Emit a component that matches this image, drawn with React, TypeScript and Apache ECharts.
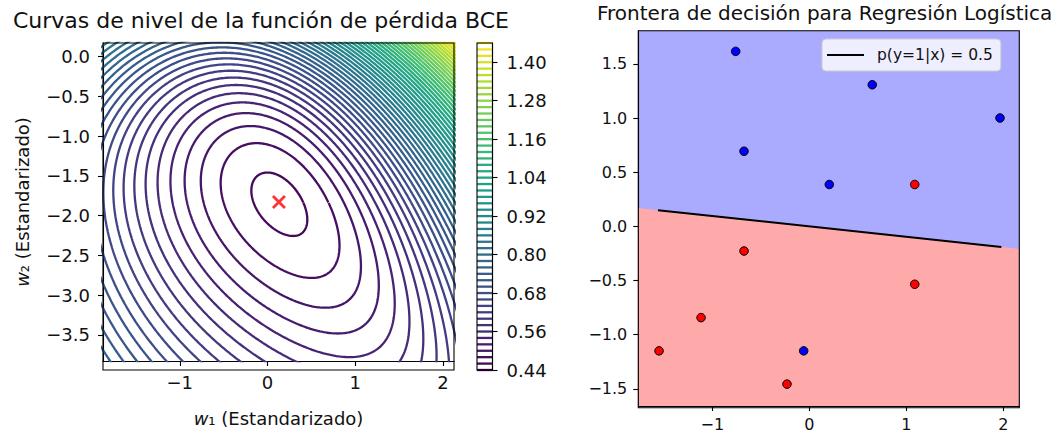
import React, { useEffect, useRef } from "react";
import * as echarts from "echarts";

const FONT = "DejaVu Sans";

// ---- Right panel data (standardized features). class 0 = blue, class 1 = red
const blueX1 = [-0.759, 0.649, 1.966, -0.673, 0.206, -0.058];
const blueX2 = [1.616, 1.308, 1.001, 0.694, 0.387, -1.149];
const redX1 = [1.087, -0.673, 1.087, -1.116, -1.549, -0.23];
const redX2 = [0.387, -0.227, -0.534, -0.842, -1.149, -1.456];

// decision boundary p(y=1|x) = 0.5 (end points)
const boundaryX1 = [-1.56, 1.98];
const boundaryX2 = [0.15, -0.19];

// ---- Left panel
const wOptimum = [0.13, -1.83];
const w1Range = [-1.875, 2.125];
const w2Range = [-3.83, 0.17];
const w1Ticks = [-1, 0, 1, 2];
const w2Ticks = [0, -0.5, -1, -1.5, -2, -2.5, -3, -3.5];
const levelMin = 0.44;
const levelMax = 1.46;
const levelStep = 0.02;
const colorbarTicks = [0.44, 0.56, 0.68, 0.8, 0.92, 1.04, 1.16, 1.28, 1.4];

// ---- Right panel axes
const x1Range = [-1.763, 2.165];
const x2Range = [-1.658, 1.807];
const x1Ticks = [-1, 0, 1, 2];
const x2Ticks = [1.5, 1, 0.5, 0, -0.5, -1, -1.5];

// ---- layout (pixels)
const GL = { x: 103, y: 43, w: 351, h: 327 };
const GC = { x: 477, y: 43, w: 15.5, h: 327 };
const GR = { x: 638.3, y: 30.7, w: 381, h: 377 };

const VIRIDIS = ["#440154", "#482475", "#414487", "#355f8d", "#2a788e", "#21918c", "#22a884", "#44bf70", "#7ad151", "#bddf26", "#fde725"];
function hex2rgb(h: string) {
  return [parseInt(h.slice(1, 3), 16), parseInt(h.slice(3, 5), 16), parseInt(h.slice(5, 7), 16)];
}
function viridis(t: number) {
  t = Math.max(0, Math.min(1, t));
  const s = t * (VIRIDIS.length - 1);
  const i = Math.min(VIRIDIS.length - 2, Math.floor(s));
  const f = s - i;
  const a = hex2rgb(VIRIDIS[i]);
  const b = hex2rgb(VIRIDIS[i + 1]);
  const c = a.map((v, k) => Math.round(v + (b[k] - v) * f));
  return `rgb(${c[0]},${c[1]},${c[2]})`;
}
const levelColor = (l: number) => viridis((l - levelMin) / (levelMax - levelMin));

type P = { x1: number; x2: number; y: number };
const samples: P[] = [
  ...blueX1.map((v, i) => ({ x1: v, x2: blueX2[i], y: 0 })),
  ...redX1.map((v, i) => ({ x1: v, x2: redX2[i], y: 1 })),
];

function bce(w1: number, w2: number) {
  let s = 0;
  for (const p of samples) {
    const z = w1 * p.x1 + w2 * p.x2;
    const sp = Math.max(z, 0) + Math.log1p(Math.exp(-Math.abs(z)));
    s += sp - p.y * z;
  }
  return s / samples.length;
}

function minimizer() {
  let c1 = 0, c2 = 0;
  for (let it = 0; it < 60; it++) {
    let g1 = 0, g2 = 0, h11 = 0, h12 = 0, h22 = 0;
    for (const p of samples) {
      const z = c1 * p.x1 + c2 * p.x2;
      const s = 1 / (1 + Math.exp(-z));
      const r = s - p.y;
      g1 += r * p.x1; g2 += r * p.x2;
      const q = s * (1 - s);
      h11 += q * p.x1 * p.x1; h12 += q * p.x1 * p.x2; h22 += q * p.x2 * p.x2;
    }
    const det = h11 * h22 - h12 * h12;
    c1 -= (h22 * g1 - h12 * g2) / det;
    c2 -= (-h12 * g1 + h11 * g2) / det;
  }
  return [c1, c2];
}

function contourLines() {
  const [c1, c2] = minimizer();
  const lmin = bce(c1, c2);
  const out: { level: number; pts: number[][] }[] = [];
  const NA = 540;
  const nLevels = Math.round((levelMax - levelMin) / levelStep);
  for (let k = 0; k <= nLevels; k++) {
    const level = +(levelMin + k * levelStep).toFixed(4);
    if (level <= lmin) continue;
    const pts: number[][] = [];
    for (let a = 0; a <= NA; a++) {
      const th = (2 * Math.PI * a) / NA;
      const u1 = Math.cos(th), u2 = Math.sin(th);
      let hi = 0.25;
      while (bce(c1 + hi * u1, c2 + hi * u2) < level && hi < 400) hi *= 2;
      let lo = 0;
      for (let b = 0; b < 34; b++) {
        const m = (lo + hi) / 2;
        if (bce(c1 + m * u1, c2 + m * u2) < level) lo = m; else hi = m;
      }
      const r = (lo + hi) / 2;
      pts.push([c1 + r * u1, c2 + r * u2]);
    }
    out.push({ level, pts });
  }
  return out;
}

const fmt1 = (v: number) => (v < 0 ? "\u2212" : "") + Math.abs(v).toFixed(1);
const fmt0 = (v: number) => (v < 0 ? "\u2212" : "") + Math.abs(v).toFixed(0);
const fmt2 = (v: number) => v.toFixed(2);

function lineAt(x: number) {
  const t = (x - boundaryX1[0]) / (boundaryX1[1] - boundaryX1[0]);
  return boundaryX2[0] + t * (boundaryX2[1] - boundaryX2[0]);
}

function axisCommon(fontSize: number, margin: number) {
  return {
    type: "value" as const,
    axisLine: { show: true, onZero: false, lineStyle: { color: "#000", width: 1.1 } },
    splitLine: { show: false },
    axisLabel: { fontSize, fontFamily: FONT, color: "#111", margin },
  };
}

const BOUNDARY_NAME = "p(y=1|x) = 0.5";

function buildOption() {
  const contours = contourLines();
  const levels: number[] = [];
  const nLevels = Math.round((levelMax - levelMin) / levelStep);
  for (let k = 0; k <= nLevels; k++) levels.push(+(levelMin + k * levelStep).toFixed(4));

  const series: any[] = contours.map((c) => ({
    type: "line",
    name: "nivel " + c.level.toFixed(2),
    xAxisIndex: 0,
    yAxisIndex: 0,
    data: c.pts,
    showSymbol: false,
    symbol: "none",
    smooth: false,
    silent: true,
    clip: true,
    lineStyle: { color: levelColor(c.level), width: 2.3 },
    z: 2,
  }));

  series.push({
    type: "scatter",
    name: "w*",
    xAxisIndex: 0,
    yAxisIndex: 0,
    data: [wOptimum],
    symbol: "path://M0,0L10,10M10,0L0,10",
    symbolSize: 12,
    itemStyle: { color: "rgba(0,0,0,0)", borderColor: "#ff0000", borderWidth: 2.8 },
    silent: true,
    z: 5,
  });

  series.push({
    type: "custom",
    name: "colorbar",
    xAxisIndex: 1,
    yAxisIndex: 1,
    data: levels.map((l) => [0.5, l]),
    renderItem: (params: any, api: any) => {
      const l = api.value(1);
      const p0 = api.coord([0, l]);
      const p1 = api.coord([1, l]);
      return {
        type: "line",
        shape: { x1: p0[0], y1: p0[1], x2: p1[0], y2: p1[1] },
        style: { stroke: levelColor(l), lineWidth: 2.3 },
      };
    },
    silent: true,
    z: 2,
  });

  series.push({
    type: "line",
    name: "region1",
    xAxisIndex: 2,
    yAxisIndex: 2,
    data: [
      [x1Range[0], lineAt(x1Range[0])],
      [x1Range[1], lineAt(x1Range[1])],
    ],
    symbol: "none",
    lineStyle: { width: 0, opacity: 0 },
    areaStyle: { color: "#ffaaaa", opacity: 1, origin: "start" },
    silent: true,
    z: 1,
  });

  series.push({
    type: "line",
    name: BOUNDARY_NAME,
    xAxisIndex: 2,
    yAxisIndex: 2,
    data: boundaryX1.map((v, i) => [v, boundaryX2[i]]),
    symbol: "none",
    showSymbol: false,
    color: "#000",
    itemStyle: { color: "#000" },
    lineStyle: { color: "#000", width: 2 },
    silent: true,
    z: 3,
  });

  series.push({
    type: "scatter",
    name: "clase 0",
    xAxisIndex: 2,
    yAxisIndex: 2,
    data: blueX1.map((v, i) => [v, blueX2[i]]),
    symbolSize: 8.5,
    itemStyle: { color: "#0000ff", borderColor: "#000", borderWidth: 1, opacity: 1 },
    silent: true,
    z: 4,
  });
  series.push({
    type: "scatter",
    name: "clase 1",
    xAxisIndex: 2,
    yAxisIndex: 2,
    data: redX1.map((v, i) => [v, redX2[i]]),
    symbolSize: 8.5,
    itemStyle: { color: "#ff0000", borderColor: "#000", borderWidth: 1, opacity: 1 },
    silent: true,
    z: 4,
  });

  const frame = (g: { x: number; y: number; w: number; h: number }) => ({
    type: "rect",
    z: 100,
    silent: true,
    shape: { x: g.x, y: g.y, width: g.w, height: g.h },
    style: { fill: "none", stroke: "#000", lineWidth: 1.1 },
  });

  return {
    animation: false,
    backgroundColor: "#fff",
    textStyle: { fontFamily: FONT },
    title: [
      {
        text: "Curvas de nivel de la función de pérdida BCE",
        left: 13,
        top: 9,
        padding: 0,
        textStyle: { fontSize: 22, fontWeight: "normal", color: "#111", fontFamily: FONT },
      },
      {
        text: "Frontera de decisión para Regresión Logística",
        left: 597,
        top: 3,
        padding: 0,
        textStyle: { fontSize: 20, fontWeight: "normal", color: "#111", fontFamily: FONT },
      },
    ],
    legend: {
      data: [{ name: BOUNDARY_NAME, icon: "rect", itemStyle: { color: "#000" } }],
      left: 822,
      top: 39,
      orient: "horizontal",
      backgroundColor: "rgba(255,255,255,0.8)",
      borderColor: "#cccccc",
      borderWidth: 1,
      borderRadius: 4,
      padding: [8, 8, 8, 5],
      itemWidth: 37,
      itemHeight: 2,
      selectedMode: false,
      formatter: (name: string) => "{t|" + name + "}",
      textStyle: {
        fontSize: 15.5, fontFamily: FONT, color: "#111",
        rich: { t: { fontSize: 15.5, fontFamily: FONT, color: "#111", padding: [0, 0, 0, 8] } },
      },
    },
    grid: [
      { left: GL.x, top: GL.y, width: GL.w, height: GL.h, containLabel: false },
      { left: GC.x, top: GC.y, width: GC.w, height: GC.h, containLabel: false },
      {
        left: GR.x, top: GR.y, width: GR.w, height: GR.h, containLabel: false,
        show: true, backgroundColor: "#aaaaff", borderWidth: 0,
      },
    ],
    xAxis: [
      {
        ...axisCommon(18, 12),
        gridIndex: 0,
        min: w1Range[0],
        max: w1Range[1],
        axisTick: { show: true, length: 5, lineStyle: { color: "#000", width: 1.1 }, customValues: w1Ticks },
        axisLabel: { fontSize: 18, fontFamily: FONT, color: "#111", margin: 12, customValues: w1Ticks, formatter: fmt0 },
        name: "{i|w}\u2081 (Estandarizado)",
        nameLocation: "middle",
        nameGap: 48,
        nameTextStyle: {
          fontSize: 18, fontFamily: FONT, color: "#111",
          rich: { i: { fontStyle: "italic", fontSize: 18, fontFamily: FONT, color: "#111" } },
        },
      },
      { gridIndex: 1, type: "value", min: 0, max: 1, show: false },
      {
        ...axisCommon(16, 9),
        gridIndex: 2,
        min: x1Range[0],
        max: x1Range[1],
        axisTick: { show: true, length: 5, lineStyle: { color: "#000", width: 1.1 }, customValues: x1Ticks },
        axisLabel: { fontSize: 16, fontFamily: FONT, color: "#111", margin: 10, customValues: x1Ticks, formatter: fmt0 },
      },
    ],
    yAxis: [
      {
        ...axisCommon(18, 13),
        gridIndex: 0,
        min: w2Range[0],
        max: w2Range[1],
        axisTick: { show: true, length: 5, lineStyle: { color: "#000", width: 1.1 }, customValues: w2Ticks },
        axisLabel: { fontSize: 18, fontFamily: FONT, color: "#111", margin: 13, customValues: w2Ticks, formatter: fmt1 },
        name: "{i|w}\u2082 (Estandarizado)",
        nameLocation: "middle",
        nameGap: 72,
        nameRotate: 90,
        nameTextStyle: {
          fontSize: 18, fontFamily: FONT, color: "#111",
          rich: { i: { fontStyle: "italic", fontSize: 18, fontFamily: FONT, color: "#111" } },
        },
      },
      {
        ...axisCommon(18, 14),
        gridIndex: 1,
        position: "right",
        min: levelMin,
        max: levelMax,
        axisTick: { show: true, length: 5, lineStyle: { color: "#000", width: 1.1 }, customValues: colorbarTicks },
        axisLabel: { fontSize: 18, fontFamily: FONT, color: "#111", margin: 14, customValues: colorbarTicks, formatter: fmt2 },
      },
      {
        ...axisCommon(16, 11),
        gridIndex: 2,
        min: x2Range[0],
        max: x2Range[1],
        axisTick: { show: true, length: 5, lineStyle: { color: "#000", width: 1.1 }, customValues: x2Ticks },
        axisLabel: { fontSize: 16, fontFamily: FONT, color: "#111", margin: 11, customValues: x2Ticks, formatter: fmt1 },
      },
    ],
    graphic: [frame(GL), frame(GC), frame(GR)],
    series,
  };
}

export default function App() {
  const ref = useRef<HTMLDivElement>(null);
  useEffect(() => {
    if (!ref.current) return;
    const chart = echarts.init(ref.current, null, { renderer: "svg" });
    chart.setOption(buildOption() as any);
    return () => chart.dispose();
  }, []);
  return (
    <div
      ref={ref}
      style={{ position: "fixed", left: 0, top: 0, width: 1064, height: 432, background: "#fff" }}
    />
  );
}
